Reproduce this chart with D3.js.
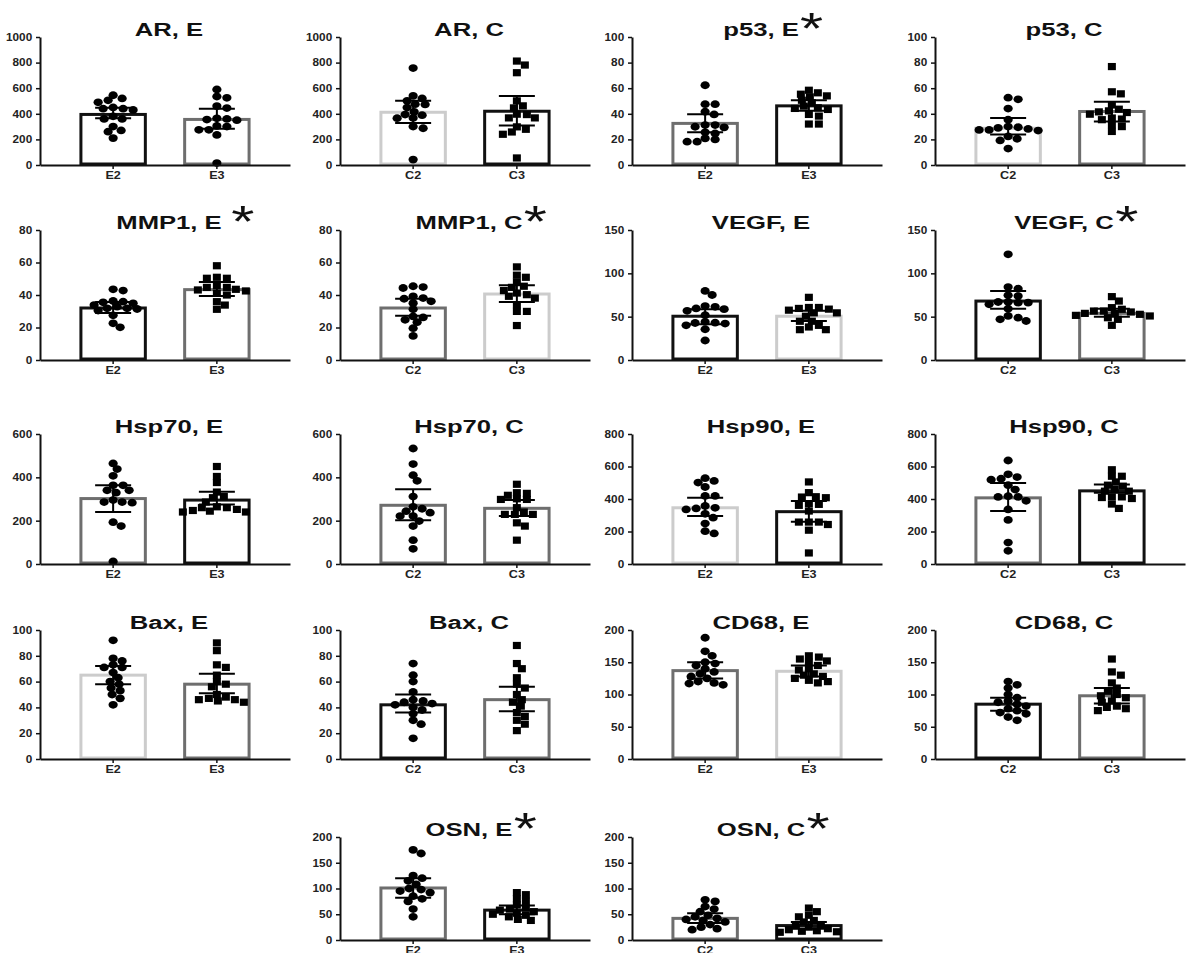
<!DOCTYPE html>
<html>
<head>
<meta charset="utf-8">
<script src="https://cdn.jsdelivr.net/npm/d3@7"></script>
<style>
  body { margin: 0; background: #fff; }
  svg text { font-family: "Liberation Sans", Arial, sans-serif; font-weight: bold; fill: #111; }
</style>
</head>
<body>
<script>
// ---- data ----
const titles = ["AR, E", "AR, C", "p53, E", "p53, C",
                "MMP1, E", "MMP1, C", "VEGF, E", "VEGF, C",
                "Hsp70, E", "Hsp70, C", "Hsp90, E", "Hsp90, C",
                "Bax, E", "Bax, C", "CD68, E", "CD68, C",
                "OSN, E", "OSN, C"];
const stars = ["", "", "*", "", " *", "*", "", "*", "", "", "", "", "", "", "", "", "*", "*"];
const groupsE = ["E2", "E3"];
const groupsC = ["C2", "C3"];
const yMax  = [1000, 1000, 100, 100, 80, 80, 150, 150, 600, 600, 800, 800, 100, 100, 200, 200, 200, 200];
const yStep = [200, 200, 20, 20, 20, 20, 50, 50, 200, 200, 200, 200, 20, 20, 50, 50, 50, 50];

// bar heights (means) for group 1 / group 2
const mean1 = [395, 412, 32.5, 28.7, 32, 32, 50.5, 68, 302, 271, 346, 407, 65, 42, 137, 85, 101, 42];
const mean2 = [356, 420, 46.2, 41.8, 43.3, 40.6, 50.5, 53.8, 295, 257, 322, 450, 58, 46, 136, 98, 58, 28];
// error bar ends [low, high]
const err1 = [[366, 448], [329, 501], [25.5, 39.7], [23.8, 36.7], [29, 35.7], [27.2, 37.7], [41.2, 58.7], [59.2, 79.6],
              [240, 363], [202, 345], [295, 408], [326, 499], [58, 72], [36, 50], [125, 150], [75, 95], [82, 120], [33, 52]];
const err2 = [[284, 440], [308, 540], [42.3, 50.6], [34, 49.5], [39.4, 48], [35.7, 46], [45, 56.7], [50, 59.2],
              [275, 334], [221, 295], [260, 388], [438, 489], [51, 66], [37, 56], [128, 145], [86, 110], [50, 67], [22, 35]];

// individual points
const pts1 = [
  [545, 505, 520, 490, 450, 440, 440, 430, 380, 360, 360, 300, 270, 260, 210],
  [757, 540, 520, 501, 475, 473, 449, 415, 394, 389, 368, 366, 300, 287, 42],
  [62.3, 47.5, 47.5, 41.6, 39.5, 31.2, 31.2, 29.9, 29.4, 25.5, 24.7, 20.8, 20, 18.2, 18.2],
  [52.6, 51.3, 44.1, 35.4, 30, 29.5, 29, 28.2, 27.4, 27.4, 26.9, 22.3, 20.5, 19.2, 12.8],
  [43.5, 42.7, 36.3, 35.9, 35.5, 34.9, 33.8, 32.8, 31.8, 31.8, 31.4, 30.4, 27.5, 22.6, 20.1],
  [45.4, 44.9, 44.3, 39.2, 38.1, 37.7, 36.1, 35, 31.3, 26.8, 26.2, 24.7, 23.3, 19.6, 14.8],
  [79.7, 75, 62.2, 61.4, 59.5, 58.7, 56.7, 51.7, 43.9, 43.1, 42.7, 42, 40, 35.4, 22.5],
  [121.9, 84.2, 82.3, 74.6, 73.8, 66.9, 66.9, 66.2, 66.2, 64.2, 59.2, 50.8, 48.8, 46.9, 45],
  [464, 438, 407, 363, 363, 340, 340, 329, 295, 286, 286, 283, 193, 175, 12],
  [533, 461, 410, 384, 311, 264, 255, 244, 237, 221, 221, 198, 175, 110, 70],
  [528, 511, 501, 474, 419, 419, 357, 346, 342, 336, 309, 285, 249, 202, 188],
  [637, 552, 535, 525, 519, 485, 458, 417, 413, 413, 389, 336, 271, 132, 81],
  [92, 78, 76, 73, 71, 71, 67, 63, 60, 58, 55, 53, 50, 47, 42],
  [74, 65, 60, 52, 46, 45, 44, 43, 42, 40, 38, 35, 30, 27, 16],
  [188, 167, 160, 150, 148, 145, 140, 135, 132, 128, 125, 120, 118, 117, 115],
  [120, 115, 110, 100, 95, 90, 88, 85, 82, 78, 75, 72, 70, 65, 60],
  [175, 168, 125, 120, 115, 108, 100, 98, 95, 92, 85, 80, 75, 60, 45],
  [78, 75, 65, 60, 55, 48, 45, 42, 40, 38, 35, 30, 25, 22, 20]
];
const pts2 = [
  [590, 535, 525, 460, 445, 365, 360, 355, 350, 305, 300, 275, 275, 235, 15],
  [812, 781, 721, 501, 462, 446, 397, 394, 368, 368, 298, 279, 258, 240, 55],
  [58.4, 56.4, 55.3, 54, 53.2, 50.6, 48.6, 46, 44.7, 44.2, 43.4, 39.5, 38.2, 32, 32],
  [76.9, 57.2, 55.6, 46.9, 43.6, 42.3, 41.5, 41, 39.7, 36.7, 35.9, 35.4, 31.5, 30, 26.2],
  [58, 50.9, 50.3, 50.3, 45.7, 44.7, 44.7, 43.5, 43.1, 42.5, 41, 40, 35.9, 33.8, 31.2],
  [57.3, 52.2, 50.9, 48, 45.4, 44.7, 42.7, 41.2, 40.2, 39.2, 38.1, 34, 29.9, 29.9, 21.2],
  [72.3, 60.6, 60.6, 59.5, 58.7, 57.5, 54.4, 54.4, 50.5, 44.7, 44.7, 40, 38.1, 35, 35],
  [73.1, 68, 60.4, 58.5, 56.5, 56.5, 55.4, 53.8, 53.8, 52.7, 51.5, 50.8, 48.8, 46.9, 40],
  [450, 404, 376, 332, 311, 306, 286, 264, 260, 260, 252, 247, 244, 240, 240],
  [368, 329, 326, 317, 301, 298, 298, 260, 240, 229, 229, 229, 190, 175, 110],
  [505, 439, 414, 412, 408, 371, 367, 361, 326, 258, 258, 258, 243, 208, 68],
  [580, 540, 540, 505, 485, 479, 458, 448, 448, 413, 413, 409, 403, 369, 342],
  [90, 84, 73, 71, 65, 60, 58, 56, 50, 48, 47, 46, 46, 45, 44],
  [88, 74, 70, 63, 58, 55, 50, 46, 44, 41, 36, 33, 30, 27, 22],
  [160, 158, 155, 152, 150, 145, 140, 138, 132, 130, 128, 125, 122, 120, 118],
  [155, 135, 130, 118, 110, 105, 100, 98, 95, 90, 88, 82, 80, 78, 75],
  [92, 88, 80, 75, 68, 62, 60, 58, 55, 52, 50, 48, 45, 40, 38],
  [62, 55, 48, 45, 38, 35, 30, 28, 25, 22, 20, 18, 17, 16, 15]
];

// ---- styling / layout ----
const K = "#111", M = "#6e6e6e", L = "#cccccc";
const barStroke = [[K, M], [L, K], [M, K], [L, M], [K, M], [M, L], [K, L], [K, M],
                   [M, K], [M, M], [L, K], [M, K], [L, M], [K, M], [M, L], [K, M], [M, K], [M, K]];
const colLeft = [40, 340, 632, 935];
const rowTop  = [37, 230, 434, 630, 837];
const rowZero = [165, 360, 564, 759, 940];
const plotW = 250;

const svg = d3.select("body").append("svg")
    .attr("width", 1190)
    .attr("height", 953);

// simple beeswarm: place points (largest first) at the nearest free horizontal offset
function swarm(vals, y) {
  const placed = [];
  const out = vals.map(() => 0);
  const order = d3.range(vals.length).sort((a, b) => vals[b] - vals[a]);
  order.forEach(i => {
    const py = y(vals[i]);
    let best = 0;
    for (let k = 0; k < 200; k++) {
      const off = (k % 2 ? 1 : -1) * Math.ceil(k / 2);
      const hit = placed.some(p => {
        const dx = (p.x - off) / 9.5, dy = (p.y - py) / 6;
        return dx * dx + dy * dy < 1;
      });
      if (!hit) { best = off; break; }
    }
    placed.push({x: best, y: py});
    out[i] = best;
  });
  return out;
}

titles.forEach((title, i) => {
  let row, col;
  if (i < 16) { row = Math.floor(i / 4); col = i % 4; }
  else { row = 4; col = i - 15; }

  const x0 = colLeft[col];
  const g = svg.append("g").attr("transform", "translate(" + x0 + ",0)");
  const groups = i % 2 === 0 ? groupsE : groupsC;

  const x = d3.scaleBand()
      .domain(groups)
      .range([0, plotW])
      .paddingInner(0.35)
      .paddingOuter(0.38);
  const y = d3.scaleLinear()
      .domain([0, yMax[i]])
      .range([rowZero[row], rowTop[row]]);

  const means = [mean1[i], mean2[i]];
  const errs = [err1[i], err2[i]];
  const pts = [pts1[i], pts2[i]];

  // bars
  g.selectAll("rect.bar")
    .data(groups)
    .enter()
    .append("rect")
      .attr("class", "bar")
      .attr("x", d => x(d) + 1.5)
      .attr("width", x.bandwidth() - 3)
      .attr("y", (d, j) => y(means[j]))
      .attr("height", (d, j) => y(0) - y(means[j]) - 1)
      .attr("fill", "#fff")
      .attr("stroke", (d, j) => barStroke[i][j])
      .attr("stroke-width", 3);

  // points
  groups.forEach((grp, j) => {
    const cx = x(grp) + x.bandwidth() / 2;
    const offs = swarm(pts[j], y);
    const square = j === 1 && i !== 0;
    if (square) {
      g.selectAll(null)
        .data(pts[j])
        .enter()
        .append("rect")
          .attr("x", (d, k) => cx + offs[k] - 4)
          .attr("y", d => y(d) - 3.6)
          .attr("width", 8)
          .attr("height", 7.2)
          .attr("fill", "#000");
    } else {
      g.selectAll(null)
        .data(pts[j])
        .enter()
        .append("ellipse")
          .attr("cx", (d, k) => cx + offs[k])
          .attr("cy", d => y(d))
          .attr("rx", 4.6)
          .attr("ry", 3.9)
          .attr("fill", "#000");
    }

    // error bar
    const e = errs[j];
    const eb = g.append("g").attr("stroke", "#000").attr("stroke-width", 2);
    eb.append("line").attr("x1", cx).attr("x2", cx).attr("y1", y(e[0])).attr("y2", y(e[1]));
    eb.append("line").attr("x1", cx - 18).attr("x2", cx + 18).attr("y1", y(e[0])).attr("y2", y(e[0]));
    eb.append("line").attr("x1", cx - 18).attr("x2", cx + 18).attr("y1", y(e[1])).attr("y2", y(e[1]));
  });

  // axes
  const yAxis = g.append("g")
      .call(d3.axisLeft(y)
        .tickValues(d3.range(0, yMax[i] + 1, yStep[i]))
        .tickFormat(d3.format("d"))
        .tickSize(4)
        .tickSizeOuter(0)
        .tickPadding(3));
  const xAxis = g.append("g")
      .attr("transform", "translate(0," + y(0) + ")")
      .call(d3.axisBottom(x).tickSize(4).tickSizeOuter(0).tickPadding(3));

  [yAxis, xAxis].forEach(a => {
    a.select(".domain").attr("stroke", "#111").attr("stroke-width", 2);
    a.selectAll(".tick line").attr("stroke", "#111").attr("stroke-width", 1.5);
    a.selectAll("text").style("font-size", "10.5px").style("fill", "#222");
  });
  yAxis.selectAll(".tick text").attr("transform", "scale(1.12,1)");
  xAxis.selectAll(".tick text").attr("transform", "scale(1.2,1)");

  // title (+ significance star)
  const tg = g.append("g")
      .attr("transform", "translate(" + (plotW / 2 + 4) + "," + (rowTop[row] - 1) + ") scale(1.35,1)");
  const t = tg.append("text")
      .attr("text-anchor", "middle")
      .style("font-size", "19px")
      .text(title);
  if (stars[i]) {
    const len = t.node().getComputedTextLength();
    tg.append("text")
      .attr("x", len / 2 + (stars[i].length > 1 ? 7 : 1))
      .attr("y", 8)
      .style("font-size", "44px")
      .style("font-weight", "normal")
      .text("*");
  }
});
</script>
</body>
</html>
